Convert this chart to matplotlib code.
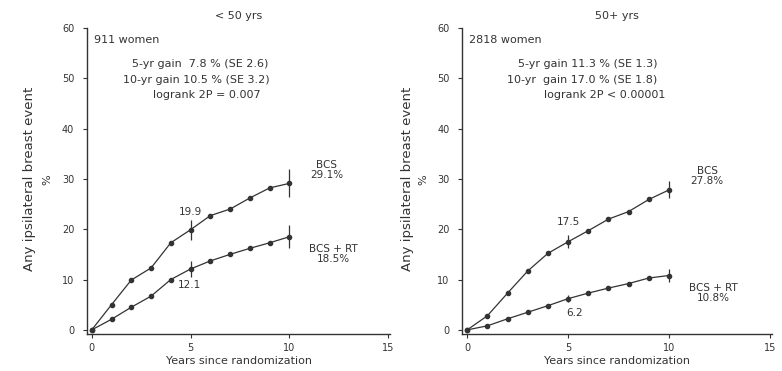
import numpy as np
from matplotlib import pyplot as plt

plt.rcParams['font.family'] = ['DejaVu Sans']

# follow-up years
years = [0, 1, 2, 3, 4, 5, 6, 7, 8, 9, 10]

# < 50 yrs
young_bcs = [0, 5.0, 9.9, 12.3, 17.3, 19.9, 22.7, 24.0, 26.2, 28.2, 29.1]
young_rt = [0, 2.1, 4.5, 6.7, 10.0, 12.1, 13.7, 15.0, 16.2, 17.3, 18.5]
young_bcs_se = [2.0, 2.8]
young_rt_se = [1.6, 2.3]

# 50+ yrs
old_bcs = [0, 2.8, 7.3, 11.7, 15.2, 17.5, 19.7, 22.0, 23.5, 25.9, 27.8]
old_rt = [0, 0.8, 2.2, 3.5, 4.8, 6.2, 7.3, 8.3, 9.2, 10.3, 10.8]
old_bcs_se = [1.3, 1.7]
old_rt_se = [0.7, 1.2]

se_years = [5, 10]
yticks = [0, 10, 20, 30, 40, 50, 60]
xticks = [0, 5, 10, 15]

panels = [
    dict(title='< 50 yrs', n='911 women',
         stats=['5-yr gain  7.8 % (SE 2.6)', '10-yr gain 10.5 % (SE 3.2)', 'logrank 2P = 0.007'],
         stats_x=[5.5, 5.3, 5.8],
         bcs=young_bcs, rt=young_rt, bcs_se=young_bcs_se, rt_se=young_rt_se,
         bcs_lab='29.1%', rt_lab='18.5%', mid_bcs='19.9', mid_rt='12.1',
         bcs_pos=(11.9, 31.8), mid_off=(3.5, -3.1), mid_rt_x=4.95,
         ylab_x=(0.038, 0.060)),
    dict(title='50+ yrs', n='2818 women',
         stats=['5-yr gain 11.3 % (SE 1.3)', '10-yr  gain 17.0 % (SE 1.8)', 'logrank 2P < 0.00001'],
         stats_x=[6.0, 5.7, 6.8],
         bcs=old_bcs, rt=old_rt, bcs_se=old_bcs_se, rt_se=old_rt_se,
         bcs_lab='27.8%', rt_lab='10.8%', mid_bcs='17.5', mid_rt='6.2',
         bcs_pos=(11.9, 30.5), mid_off=(3.9, -2.8), mid_rt_x=5.3,
         ylab_x=(0.521, 0.541)),
]

fig = plt.figure(figsize=(7.82, 3.71), dpi=100)
ax_left = fig.add_axes([0.111, 0.100, 0.388, 0.825])
ax_right = fig.add_axes([0.591, 0.100, 0.396, 0.825])

ink = '#333333'
fs = 8

for ax, p in zip([ax_left, ax_right], panels):
    for series, se in [(p['bcs'], p['bcs_se']), (p['rt'], p['rt_se'])]:
        ax.plot(years, series, color=ink, lw=0.9, marker='o', ms=3, zorder=3)
        ax.errorbar(se_years, [series[5], series[10]], yerr=se, fmt='none',
                    ecolor=ink, elinewidth=0.9, capsize=0)

    ax.set_xlim(-0.25, 15.1)
    ax.set_ylim(-0.8, 60)
    ax.set_xticks(xticks)
    ax.set_yticks(yticks)
    ax.tick_params(labelsize=7, colors=ink, length=3, width=0.8)
    ax.tick_params(axis='y', pad=6)
    for side in ['top', 'right']:
        ax.spines[side].set_visible(False)
    for side in ['left', 'bottom']:
        ax.spines[side].set_color(ink)
        ax.spines[side].set_linewidth(1.0)

    ax.set_title(p['title'], fontsize=fs, color=ink, pad=6.5)
    ax.set_xlabel('Years since randomization', fontsize=fs, color=ink, labelpad=2)

    # y label: two separate lines, the % sits closer to the axis
    lx, px = p['ylab_x']
    fig.text(lx, 0.517, 'Any ipsilateral breast event', fontsize=9.5, color=ink,
             rotation=90, ha='center', va='center')
    fig.text(px, 0.517, '%', fontsize=8, color=ink,
             rotation=90, ha='center', va='center')

    ax.text(0.1, 57.6, p['n'], fontsize=fs, color=ink, va='center')
    for line, sx, sy in zip(p['stats'], p['stats_x'], [52.8, 49.6, 46.6]):
        ax.text(sx, sy, line, fontsize=fs, color=ink, ha='center', va='center')

    bx, by = p['bcs_pos']
    ax.text(bx, by, 'BCS\n' + p['bcs_lab'], fontsize=7.5, color=ink,
            ha='center', va='center', linespacing=1.0)
    ax.text(12.2, p['rt'][10] - 3.4, 'BCS + RT\n' + p['rt_lab'], fontsize=7.5,
            color=ink, ha='center', va='center', linespacing=1.0)
    ax.text(5, p['bcs'][5] + p['mid_off'][0], p['mid_bcs'], fontsize=7.5, color=ink,
            ha='center', va='center')
    ax.text(p['mid_rt_x'], p['rt'][5] + p['mid_off'][1], p['mid_rt'], fontsize=7.5,
            color=ink, ha='center', va='center')

fig.savefig('out.png', dpi=100)
